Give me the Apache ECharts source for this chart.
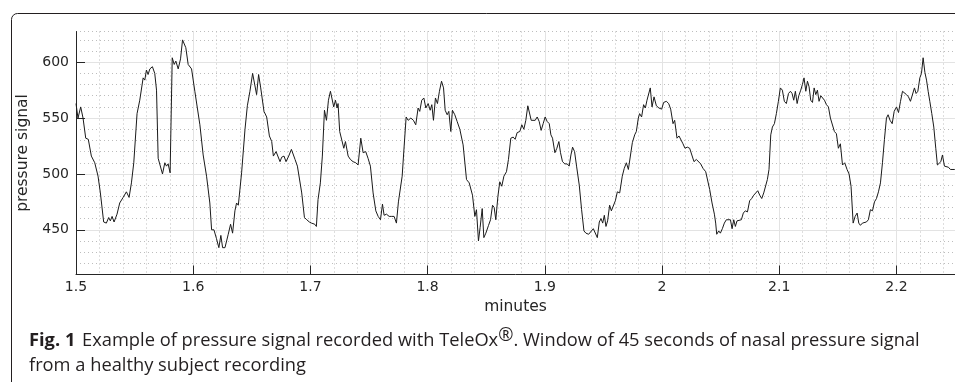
<!DOCTYPE html>
<html>
<head>
<meta charset="utf-8">
<script src="https://cdn.jsdelivr.net/npm/echarts@6/dist/echarts.min.js"></script>
<style>
html, body { margin: 0; padding: 0; background: #fff; }
#chart { width: 955px; height: 382px; }
</style>
</head>
<body>
<div id="chart"></div>
<script>
// nasal pressure signal, time in minutes
const minutes = [
  1.5000,1.5017,1.5040,1.5060,1.5083,1.5105,1.5131,1.5160,1.5188,1.5208,
  1.5236,1.5259,1.5279,1.5293,1.5308,1.5325,1.5350,1.5373,1.5402,1.5430,
  1.5453,1.5473,1.5493,1.5521,1.5544,1.5573,1.5587,1.5601,1.5615,1.5630,
  1.5652,1.5672,1.5687,1.5701,1.5715,1.5738,1.5758,1.5772,1.5786,1.5803,
  1.5821,1.5838,1.5852,1.5872,1.5892,1.5909,1.5923,1.5937,1.5957,1.5986,
  1.6000,1.6014,1.6028,1.6057,1.6085,1.6114,1.6142,1.6157,1.6177,1.6199,
  1.6219,1.6236,1.6251,1.6271,1.6299,1.6319,1.6336,1.6356,1.6370,1.6385,
  1.6413,1.6442,1.6462,1.6484,1.6507,1.6521,1.6541,1.6558,1.6576,1.6604,
  1.6627,1.6650,1.6670,1.6684,1.6707,1.6721,1.6741,1.6755,1.6775,1.6792,
  1.6815,1.6838,1.6869,1.6889,1.6926,1.6949,1.6969,1.6991,
  1.7009,1.7037,1.7051,1.7065,1.7085,1.7102,1.7120,1.7137,1.7154,1.7171,
  1.7185,1.7199,1.7214,1.7228,1.7236,1.7250,1.7265,1.7285,1.7299,1.7322,
  1.7341,1.7364,1.7387,1.7407,1.7430,1.7450,1.7472,1.7492,1.7512,1.7535,
  1.7558,1.7578,1.7598,1.7615,1.7629,1.7649,1.7672,1.7694,1.7714,1.7734,
  1.7751,1.7763,1.7783,1.7800,1.7817,1.7834,1.7857,1.7879,1.7899,1.7919,
  1.7933,1.7950,1.7968,1.7985,1.8005,1.8022,1.8036,1.8050,1.8067,1.8084,
  1.8101,1.8119,1.8136,1.8150,1.8167,1.8181,1.8198,1.8212,1.8232,1.8252,
  1.8275,1.8303,1.8332,1.8355,1.8383,1.8403,1.8417,1.8434,1.8448,1.8466,
  1.8480,1.8497,1.8520,1.8537,1.8554,1.8568,1.8582,1.8600,1.8616,1.8633,
  1.8651,1.8673,1.8690,1.8710,1.8730,1.8747,1.8764,1.8787,1.8804,1.8821,
  1.8838,1.8855,1.8870,1.8884,1.8901,1.8918,1.8935,1.8952,1.8969,1.8986,
  1.9003,1.9020,1.9038,1.9052,1.9066,1.9086,1.9103,1.9120,1.9134,1.9151,
  1.9171,1.9191,1.9208,1.9223,1.9237,1.9254,1.9271,1.9294,1.9314,1.9334,
  1.9351,1.9374,1.9391,1.9414,1.9431,1.9448,1.9465,1.9480,1.9494,1.9508,
  1.9522,1.9536,1.9553,1.9568,1.9585,1.9602,1.9619,
  1.9639,1.9661,1.9678,1.9696,1.9713,1.9730,1.9747,1.9767,1.9781,1.9798,
  1.9809,1.9826,1.9843,1.9858,1.9872,1.9886,1.9900,1.9915,1.9932,1.9952,
  1.9974,1.9997,2.0014,2.0037,2.0057,2.0074,2.0094,2.0108,2.0128,2.0145,
  2.0162,2.0179,2.0196,2.0216,2.0236,2.0253,2.0273,2.0293,2.0310,2.0330,
  2.0350,2.0373,2.0390,2.0407,2.0427,2.0447,2.0458,2.0467,2.0484,2.0498,
  2.0515,2.0532,2.0549,2.0566,2.0584,2.0598,2.0612,2.0626,2.0640,2.0657,
  2.0677,2.0694,2.0711,2.0729,2.0748,2.0765,2.0783,2.0800,2.0817,2.0834,
  2.0851,2.0868,2.0882,2.0899,2.0913,2.0928,2.0942,2.0959,2.0976,2.0993,
  2.1010,2.1027,2.1044,2.1061,2.1079,2.1096,2.1110,2.1124,2.1138,2.1153,
  2.1167,2.1184,2.1198,2.1212,2.1227,2.1241,2.1255,2.1269,2.1284,2.1298,
  2.1312,2.1326,2.1340,2.1355,2.1369,2.1386,2.1403,2.1420,2.1437,2.1454,
  2.1471,2.1488,2.1505,2.1522,2.1540,2.1559,2.1579,2.1596,2.1613,2.1631,
  2.1648,2.1665,2.1679,2.1693,2.1710,2.1727,2.1744,2.1761,2.1778,2.1796,
  2.1813,2.1830,2.1847,2.1864,2.1881,2.1898,2.1915,2.1929,2.1946,2.1964,
  2.1981,2.2001,2.2018,2.2035,2.2052,2.2069,2.2086,2.2103,2.2120,2.2137,
  2.2154,2.2168,2.2183,2.2200,2.2214,2.2228,2.2243,2.2257,2.2271,2.2285,
  2.2302,2.2319,2.2336,2.2350,2.2365,2.2379,2.2393,2.2410,2.2427,2.2444,
  2.2461,2.2478,2.2498
];

const pressure = [
  563,550,560,550,532,531,516,510,498,483,
  457,456,461,458,462,457,464,474,479,484,
  479,492,510,554,566,586,584,593,589,594,
  596,590,575,514,513,500,510,507,509,501,
  604,598,601,594,603,620,620,613,598,594,
  584,574,575,544,517,498,474,450,450,442,
  434,445,434,434,446,455,447,467,474,472,
  501,540,561,574,590,590,571,589,577,556,
  551,534,529,516,520,519,511,515,516,511,
  516,522,513,507,483,461,459,457,
  456,455,453,477,492,516,557,548,566,574,
  574,560,566,559,563,538,537,523,529,516,
  513,511,510,508,532,519,520,514,507,483,
  467,462,459,473,463,464,462,462,462,456,
  475,475,498,525,551,548,550,548,544,559,
  556,566,568,559,563,557,562,548,568,563,
  574,583,577,557,553,556,538,557,553,547,
  540,526,495,492,481,462,468,440,452,469,
  443,447,454,459,472,470,459,480,493,489,
  498,502,513,532,533,531,537,538,544,540,
  548,561,560,548,548,548,551,547,539,545,
  551,547,545,535,532,519,523,529,519,511,
  509,509,507,517,524,520,507,490,468,449,
  447,446,447,451,452,443,457,460,456,463,
  453,458,472,467,468,476,484,
  483,498,505,510,504,504,528,535,538,550,
  554,551,562,559,566,565,577,560,569,561,
  559,558,564,565,563,558,545,548,532,534,
  535,527,523,524,523,524,511,513,514,509,
  505,502,501,486,474,464,456,446,449,447,
  451,456,459,459,459,451,459,453,458,459,
  459,465,467,466,476,478,481,483,485,481,
  478,483,482,495,504,535,542,545,554,565,
  577,575,565,563,572,574,572,566,574,563,
  570,575,580,586,574,583,578,566,564,577,
  571,575,565,570,571,566,562,560,550,551,
  538,536,523,527,508,510,504,500,489,456,
  462,465,456,454,456,456,457,459,468,467,
  475,478,484,492,510,531,550,553,548,545,
  556,560,555,565,574,573,571,569,565,566,
  577,572,574,586,590,604,591,584,574,565,
  554,542,523,508,507,511,517,507,507,506,
  504,505,504
];

const yMajorTicks = [450, 500, 550, 600];

const tickFont = { fontFamily: 'DejaVu Sans', fontSize: 14, color: '#262626' };
const nameFont = { fontFamily: 'DejaVu Sans', fontSize: 15.5, color: '#262626' };
const captionFont = '18.3px "Open Sans"';
const captionBold = 'bold 18.3px "Open Sans"';

const chart = echarts.init(document.getElementById('chart'));

const signal = minutes.map((t, i) => [t, pressure[i]]);

const xBase = { type: 'value', min: 1.5, max: 2.25, position: 'bottom', offset: 0 };
const yBase = { type: 'value', min: 410, max: 627.5, position: 'left', offset: 0 };
const minorGrid = { show: true, lineStyle: { color: '#bdbdbd', type: [1, 3], width: 1 } };
const majorGrid = { show: true, lineStyle: { color: '#e3e3e3', width: 1 } };

chart.setOption({
  animation: false,
  grid: { left: 76, top: 31.5, right: 0, height: 243, containLabel: false },
  xAxis: [
    {
      ...xBase,
      interval: 0.02,
      axisLine: { show: false },
      axisTick: { show: false },
      axisLabel: { show: false },
      splitLine: minorGrid,
    },
    {
      ...xBase,
      interval: 0.1,
      name: 'minutes',
      nameLocation: 'middle',
      nameGap: 23,
      nameTextStyle: nameFont,
      axisLine: { show: true, lineStyle: { color: '#262626', width: 1 } },
      axisTick: { show: true, inside: true, length: 9, lineStyle: { color: '#262626' } },
      axisLabel: { ...tickFont, margin: 6, showMaxLabel: false },
      splitLine: majorGrid,
    },
  ],
  yAxis: [
    {
      ...yBase,
      interval: 10,
      axisLine: { show: false },
      axisTick: { show: false },
      axisLabel: { show: false },
      splitLine: minorGrid,
    },
    {
      ...yBase,
      name: 'pressure signal',
      nameLocation: 'middle',
      nameGap: 38,
      nameTextStyle: nameFont,
      axisLine: { show: true, lineStyle: { color: '#262626', width: 1 } },
      axisTick: { show: true, inside: true, length: 9, customValues: yMajorTicks, lineStyle: { color: '#262626' } },
      axisLabel: { ...tickFont, margin: 7, customValues: yMajorTicks },
      splitLine: majorGrid,
    },
  ],
  series: [
    {
      type: 'line',
      xAxisIndex: 1,
      yAxisIndex: 1,
      data: signal,
      showSymbol: false,
      symbol: 'none',
      lineStyle: { color: '#1a1a1a', width: 1 },
      clip: true,
    },
  ],
  graphic: [
    {
      type: 'rect',
      silent: true,
      shape: { x: 11.5, y: 13.5, width: 1000, height: 1000, r: 6 },
      style: { fill: 'none', stroke: '#231f20', lineWidth: 1 },
    },
    {
      type: 'text',
      silent: true,
      x: 29,
      y: 341,
      style: {
        text: '{b|Fig. 1}  {n|Example of pressure signal recorded with TeleOx}{r|®}{n|. Window of 45 seconds of nasal pressure signal}',
        verticalAlign: 'middle',
        rich: {
          b: { font: captionBold, fill: '#231f20', lineHeight: 28 },
          n: { font: captionFont, fill: '#231f20', lineHeight: 28 },
          r: { font: captionFont, fill: '#231f20', lineHeight: 15, verticalAlign: 'top' },
        },
      },
    },
    {
      type: 'text',
      silent: true,
      x: 29,
      y: 366,
      style: {
        text: 'from a healthy subject recording',
        font: captionFont,
        fill: '#231f20',
        verticalAlign: 'middle',
      },
    },
  ],
});
</script>
</body>
</html>
